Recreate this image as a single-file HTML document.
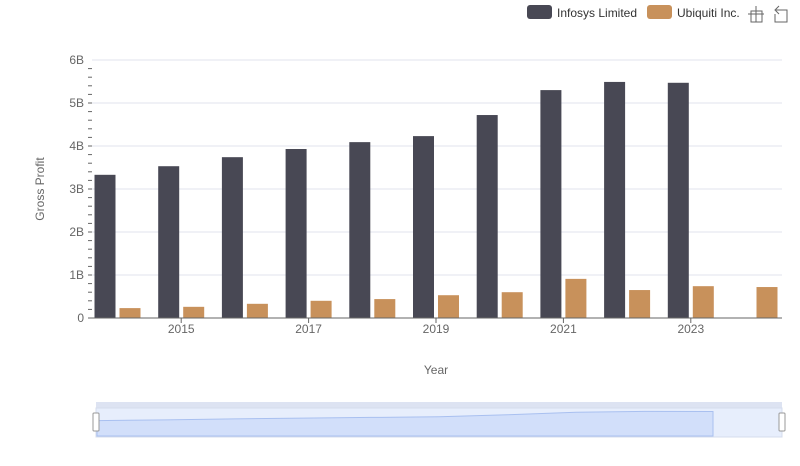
<!DOCTYPE html>
<html><head><meta charset="utf-8"><style>
body{margin:0;background:#fff;font-family:"Liberation Sans",sans-serif}
svg text{font-family:"Liberation Sans",sans-serif}
</style></head><body>
<svg width="800" height="461" id="chart">
<g>
<g><rect x="527" y="5" width="25" height="14" rx="3" fill="#484854"/><text x="557" y="17" font-size="12" fill="#333">Infosys Limited</text></g>
<g><rect x="647" y="5" width="25" height="14" rx="3" fill="#c8915b"/><text x="677" y="17" font-size="12" fill="#333">Ubiquiti Inc.</text></g>
<g stroke="#666" fill="none"><path d="M748 14h16M756 6v16M751 11h11v11h-11z"/></g>
<g stroke="#666" fill="none"><path d="M776 10h11v12h-12v-8M779 6l-4 4 4 4"/></g>
</g>
<g id="grid"></g>
<g id="bars"></g>
<g id="axes"></g>
<text x="44" y="189" font-size="12" fill="#666" text-anchor="middle" transform="rotate(-90 44 189)">Gross Profit</text>
<text x="436" y="374" font-size="12" fill="#666" text-anchor="middle">Year</text>
<g>
<rect x="96" y="402" width="686" height="6" fill="#dde3f2"/>
<rect x="96" y="408" width="686" height="29" fill="#e7eefc" stroke="#d5dcec"/>
<path id="zoomArea" fill="#d2dffa" stroke="#a9c0f0"/>
<rect x="93" y="413" width="6" height="18" rx="1" fill="#fff" stroke="#999"/>
<rect x="779" y="413" width="6" height="18" rx="1" fill="#fff" stroke="#999"/>
</g>
</svg>
<script>
const years=["2014","2015","2016","2017","2018","2019","2020","2021","2022","2023","2024"];
const infosys=[3.33,3.53,3.74,3.93,4.09,4.23,4.72,5.30,5.49,5.47,null];
const ubiquiti=[0.23,0.26,0.33,0.40,0.44,0.53,0.60,0.91,0.65,0.74,0.72];
const yTicks=[0,1,2,3,4,5,6];
const yLabels=["0","1B","2B","3B","4B","5B","6B"];
const xLabelYears=["2015","2017","2019","2021","2023"];
const NS="http://www.w3.org/2000/svg";
const y=v=>318-v*43;
const x=i=>117.5+i*63.7;
function mk(tag,attrs,parent,text){const e=document.createElementNS(NS,tag);for(const k in attrs)e.setAttribute(k,attrs[k]);if(text!=null)e.textContent=text;parent.appendChild(e);return e;}
const grid=document.getElementById('grid'),bars=document.getElementById('bars'),axes=document.getElementById('axes');
yTicks.forEach((t,i)=>{
 if(t>0){const l=mk('line',{x1:92,x2:782,y1:y(t),y2:y(t),stroke:'#e0e3ee'},grid);
 
 }
 const tx=mk('text',{x:84,y:y(t)+4,'font-size':12,fill:'#666','text-anchor':'end'},axes,yLabels[i]);
 
 
});
for(let v=0;v<=6;v+=0.2){const m=mk('line',{x1:88,x2:92,y1:y(v),y2:y(v),stroke:'#666'},axes);
 
 }
const ax=mk('line',{x1:92,x2:782,y1:318,y2:318,stroke:'#666'},axes);


years.forEach((yr,i)=>{
 if(infosys[i]!=null){const r=mk('rect',{x:x(i)-23,y:y(infosys[i]),width:21,height:318-y(infosys[i]),fill:'#484854'},bars);
 
 }
 if(ubiquiti[i]!=null){const r=mk('rect',{x:x(i)+2,y:y(ubiquiti[i]),width:21,height:318-y(ubiquiti[i]),fill:'#c8915b'},bars);
 
 }
 if(xLabelYears.includes(yr)){
 const tk=mk('line',{x1:x(i),x2:x(i),y1:318,y2:323,stroke:'#666'},axes);
 
 
 const t=mk('text',{x:x(i),y:333,'font-size':12,fill:'#666','text-anchor':'middle'},axes,yr);
 
 }
});
// data zoom preview from infosys
const zx=i=>97+i*(616/9), zy=v=>435-v*4.3;
let d='M97 436';
infosys.forEach((v,i)=>{if(v!=null)d+=' L'+zx(i)+' '+zy(v);});
d+=' L'+zx(9)+' 436 Z';
document.getElementById('zoomArea').setAttribute('d',d);
</script>
</body></html>
